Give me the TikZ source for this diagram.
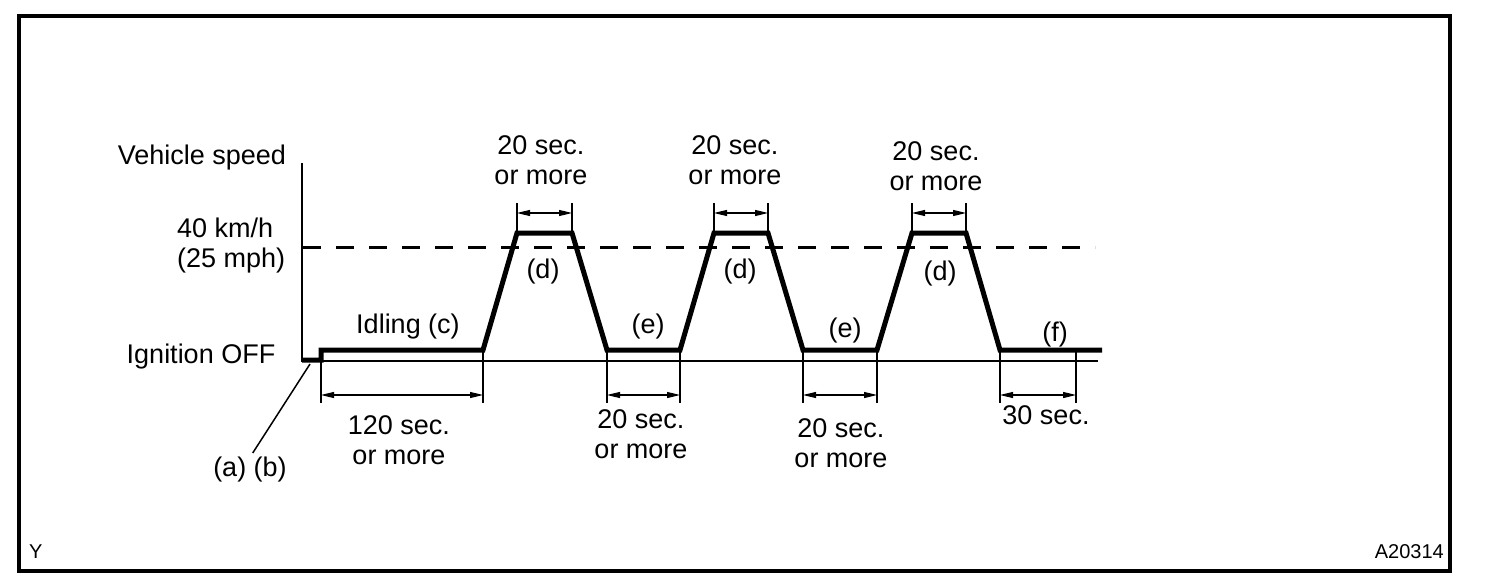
\documentclass[tikz,border=0pt]{standalone}
\usepackage{fontspec}
\setmainfont{Liberation Sans}
\usetikzlibrary{arrows.meta, calc}

\begin{document}
\begin{tikzpicture}[
    x=1pt, y=-1pt,
    font=\fontsize{27}{30}\selectfont,
    profile/.style={line width=5pt, line join=miter},
    thin/.style={line width=1.5pt},
    ext/.style={line width=1.5pt},
    dim/.style={line width=1.2pt, {Triangle[length=13pt,width=6pt]}-{Triangle[length=13pt,width=6pt]}},
    lbl/.style={align=center, inner sep=0pt},
    tag/.style={font=\fontsize{20}{22}\selectfont, inner sep=0pt},
]

% --- frame -----------------------------------------------------------
\useasboundingbox (0,0) rectangle (1504,588);
\draw[line width=4pt] (19,16) rectangle (1450,571);

% --- axes --------------------------------------------------------------
\coordinate (ytop)  at (302,163);
\coordinate (yorg)  at (302,361);
\coordinate (xend)  at (1098,361);
\draw[thin] (ytop) -- (yorg) -- (xend);

% 40 km/h level
\coordinate (lvl0) at (303,247);
\coordinate (lvl1) at (1095,247);
\draw[line width=3pt, dash pattern=on 18pt off 15pt] (lvl0) -- (lvl1);

% --- speed profile -----------------------------------------------------
\coordinate (off0) at (302,360);
\coordinate (off1) at (321,360);
\coordinate (idl)  at (321,350);
\coordinate (r1)   at (483,350);
\coordinate (t1)   at (517,233);
\coordinate (t2)   at (572,233);
\coordinate (b1)   at (607,350);
\coordinate (b2)   at (680,350);
\coordinate (t3)   at (714,233);
\coordinate (t4)   at (768,233);
\coordinate (b3)   at (803,350);
\coordinate (b4)   at (877,350);
\coordinate (t5)   at (912,233);
\coordinate (t6)   at (966,233);
\coordinate (b5)   at (1000,350);
\coordinate (fin)  at (1102,350);
\coordinate (s30)  at (1076,350);

\draw[profile] (off0) -- (off1) -- (idl) -- (r1) -- (t1) -- (t2) -- (b1)
    -- (b2) -- (t3) -- (t4) -- (b3) -- (b4) -- (t5) -- (t6) -- (b5) -- (fin);

% --- top dimensions (20 sec. or more at 40 km/h) ----------------------
\foreach \a/\b in {t1/t2, t3/t4, t5/t6}{
    \draw[ext] (\a) -- ($(\a)+(0,-30)$);
    \draw[ext] (\b) -- ($(\b)+(0,-30)$);
    \draw[dim] ($(\a)+(0,-20)$) -- ($(\b)+(0,-20)$);
}

% --- bottom dimensions -------------------------------------------------
\foreach \a/\b in {idl/r1, b1/b2, b3/b4, b5/s30}{
    \draw[ext] (\a) -- ($(\a)+(0,53)$);
    \draw[ext] (\b) -- ($(\b)+(0,53)$);
    \draw[dim] ($(\a)+(0,45)$) -- ($(\b)+(0,45)$);
}

% --- labels -----------------------------------------------------------
\node[lbl] (vspeed) at (202,158) {Vehicle speed};
\node[lbl, align=left, anchor=west] (kmh) at (177,246) {40 km/h\\(25 mph)};
\node[lbl] (ign)    at (201,357) {Ignition OFF};
\node[lbl] (ab)     at (250,470) {(a) (b)};
\coordinate (lead) at (310,364);
\draw[thin, shorten >=5pt] (lead) -- (ab.north);

\node[lbl] (idling) at (408,327) {Idling (c)};
\node[lbl] (d1) at (543,272) {(d)};
\node[lbl] (d2) at (740,272) {(d)};
\node[lbl] (d3) at (940,274) {(d)};
\node[lbl] (e1) at (648,327) {(e)};
\node[lbl] (e2) at (845,331) {(e)};
\node[lbl] (f1) at (1055,335) {(f)};

\node[lbl] (top1) at (541,160) {20 sec.\\or more};
\node[lbl] (top2) at (735,160) {20 sec.\\or more};
\node[lbl] (top3) at (936,166) {20 sec.\\or more};

\node[lbl] (bot1) at (399,440) {120 sec.\\or more};
\node[lbl] (bot2) at (641,434) {20 sec.\\or more};
\node[lbl] (bot3) at (841,443) {20 sec.\\or more};
\node[lbl] (bot4) at (1046,415) {30 sec.};

\node[tag, anchor=west] (ycode) at (29,552) {Y};
\node[tag, anchor=east] (fig)   at (1444,552) {A20314};

\end{tikzpicture}
\end{document}
